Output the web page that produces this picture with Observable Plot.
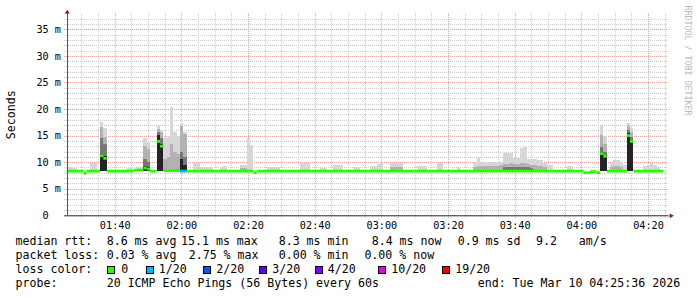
<!DOCTYPE html>
<html><head><meta charset="utf-8">
<script src="https://cdn.jsdelivr.net/npm/d3@7"></script>
<script src="https://cdn.jsdelivr.net/npm/@observablehq/plot@0.6"></script>
<style>
html,body{margin:0;padding:0;background:#fff;}
#chart{position:relative;width:697px;height:297px;overflow:hidden;background:#fff;}
#chart svg{position:absolute;left:0;top:0;}
.lg{position:absolute;font-family:'DejaVu Sans Mono',monospace;font-size:11.6px;line-height:14px;white-space:pre;color:#000;}
.box{position:absolute;width:8px;height:8px;box-sizing:border-box;border:1px solid #000;}
</style></head><body><div id="chart"></div>
<script>
// ---------- data ----------
const timeStart = "01:25", timeEnd = "04:25", dataEnd = "04:24";
const xTickLabels = ["01:40","02:00","02:20","02:40","03:00","03:20","03:40","04:00","04:20"];
const yTicks = [0,5,10,15,20,25,30,35];
const yTickLabels = ["0","5 m","10 m","15 m","20 m","25 m","30 m","35 m"];
const pingFloor = 8.3;

// smoke columns (1 minute each): tops of the smoke layers, lightest to darkest (ms)
const smokeTime = [
 "01:25","01:26","01:27","01:32","01:33","01:35","01:36","01:43","01:44","01:46",
 "01:47","01:48","01:49","01:52","01:53","01:54","01:55","01:56","01:57","01:58",
 "01:59","02:00","02:03","02:04","02:05","02:06","02:07","02:08","02:11","02:12",
 "02:17","02:18","02:19","02:20","02:25","02:26","02:27","02:28","02:35","02:36",
 "02:37","02:41","02:42","02:45","02:46","02:47","02:51","02:52","02:56","02:57",
 "02:58","02:59","03:02","03:03","03:04","03:05","03:10","03:11","03:12","03:16",
 "03:17","03:22","03:27","03:28","03:29","03:30","03:31","03:32","03:33","03:34",
 "03:35","03:36","03:37","03:38","03:39","03:40","03:41","03:42","03:43","03:44",
 "03:45","03:46","03:47","03:48","03:49","03:50","03:55","03:56","04:05","04:06",
 "04:08","04:09","04:10","04:11","04:12","04:13","04:14","04:18","04:19","04:20",
 "04:21","04:22"];
const smokeMax = [
 9.0,9.0,8.9,9.9,9.9,17.6,16.4,8.9,9.0,9.0,
 9.0,14.5,13.8,17.0,16.1,14.5,14.8,20.3,15.7,15.0,
 17.3,15.7,9.9,9.9,9.0,9.0,9.0,9.1,9.1,9.2,
 9.4,9.4,14.6,13.2,9.1,9.1,9.1,9.1,9.8,9.8,
 9.8,8.9,8.9,9.4,9.4,9.4,9.0,9.0,9.3,9.3,
 9.6,10.0,9.8,9.8,9.8,9.8,9.3,9.3,9.3,9.9,
 9.9,9.0,10.1,11.0,10.1,10.1,10.1,10.1,10.1,10.1,
 10.1,11.8,11.8,11.8,10.7,10.7,12.6,12.8,10.6,10.6,
 10.6,10.4,10.4,9.9,9.5,9.5,9.3,9.3,17.0,14.9,
 9.8,10.4,10.4,10.0,9.5,17.4,16.4,9.3,9.5,9.9,
 9.5,9.0];
const smokeUpper = [
 null,null,null,null,null,16.7,14.8,null,null,null,
 null,13.0,12.5,16.3,15.6,10.5,11.0,13.5,12.0,11.5,
 16.8,15.3,null,null,null,null,null,null,null,null,
 8.9,8.9,null,null,null,null,null,null,null,null,
 null,null,null,null,null,null,null,null,null,null,
 null,null,9.0,9.0,9.0,9.0,null,null,null,null,
 null,null,9.0,9.2,9.2,9.2,9.3,9.3,9.3,9.3,
 9.5,9.6,9.6,9.8,9.6,9.6,9.8,9.8,9.6,9.5,
 9.5,9.3,9.3,9.0,null,null,null,null,15.1,13.5,
 9.0,9.2,9.2,9.0,null,16.8,15.6,null,null,null,
 null,null];
const smokeMid = [
 null,null,null,null,null,14.5,13.5,null,null,null,
 null,10.5,10.0,15.6,14.5,null,null,null,null,null,
 12.0,11.0,null,null,null,null,null,null,null,null,
 null,null,null,null,null,null,null,null,null,null,
 null,null,null,null,null,null,null,null,null,null,
 null,null,null,null,null,null,null,null,null,null,
 null,null,null,null,null,null,null,null,null,null,
 null,9.0,9.0,9.1,9.0,9.0,9.1,9.1,9.0,8.9,
 null,null,null,null,null,null,null,null,12.9,12.0,
 null,null,null,null,null,16.0,14.8,null,null,null,
 null,null];
const smokeDark = [
 null,null,null,null,null,11.6,11.2,null,null,null,
 null,9.3,9.0,15.1,13.5,null,null,null,null,null,
 10.5,9.5,null,null,null,null,null,null,null,null,
 null,null,null,null,null,null,null,null,null,null,
 null,null,null,null,null,null,null,null,null,null,
 null,null,null,null,null,null,null,null,null,null,
 null,null,null,null,null,null,null,null,null,null,
 null,null,null,null,null,null,null,null,null,null,
 null,null,null,null,null,null,null,null,11.9,11.4,
 null,null,null,null,null,15.5,14.2,null,null,null,
 null,null];

// median rtt runs: start minute, median (ms), loss index
const medStart = ["01:25","01:30","01:31","01:35","01:36","01:37","01:45","01:48","01:49","01:50",
                  "01:52","01:53","01:54","01:59","02:01","02:21","02:22","04:00","04:02","04:04",
                  "04:05","04:06","04:07","04:13","04:14","04:15"];
const medValue = [8.4,8.0,8.4,11.3,10.8,8.4,8.6,9.0,8.8,8.4,
                  14.0,13.1,8.5,8.4,8.4,8.1,8.4,8.1,8.3,8.1,
                  11.7,11.2,8.4,15.1,14.0,8.4];
const medLoss  = [0,0,0,0,0,0,0,0,0,0,
                  0,0,0,1,0,0,0,0,0,0,
                  0,0,0,0,0,0];

const lossColors = ["#26ff00","#00b8ff","#0059ff","#5e00ff","#7e00ff","#dd00ff","#ff0000"];
const lossLabels = ["0","1/20","2/20","3/20","4/20","10/20","19/20"];

const rttValues = ["8.6","15.1","8.3","8.4","0.9"];
const rttWords  = ["ms avg","ms max","ms min","ms now","ms sd"];
const amsValue  = "9.2";
const lossStats = ["0.03","2.75","0.00","0.00"];
const lossWords = ["% avg","% max","% min","% now"];
const probeText = "20 ICMP Echo Pings (56 Bytes) every 60s";
const endText   = "end: Tue Mar 10 04:25:36 2026";

// ---------- build ----------
const T = (s, sec) => { const [h, m] = s.split(":").map(Number); return new Date(Date.UTC(2026, 2, 10, h, m, sec)); };
const x0 = T(timeStart, 36), x1 = T(timeEnd, 36);
const smoke = smokeTime.map((t, i) => ({t0: T(t, 36), t1: T(t, 96),
  max: smokeMax[i], upper: smokeUpper[i], mid: smokeMid[i], dark: smokeDark[i]}));
const runs = medStart.map((t, i) => ({
  t0: T(t, 36),
  t1: i < medStart.length - 1 ? T(medStart[i + 1], 36) : T(dataEnd, 36),
  v: medValue[i], c: lossColors[medLoss[i]]
}));
const xMajor = xTickLabels.map(s => T(s, 0));
const xMinor = d3.utcMinute.every(5).range(x0, x1).filter(d => d.getUTCMinutes() % 20 !== 0);
const yMinor = d3.range(1, 38).filter(d => d % 5 !== 0);
const yMajor = yTicks.filter(d => d > 0);

const arrowUp = {draw(ctx, size) { const r = Math.sqrt(size / Math.PI);
  ctx.moveTo(0, -0.8 * r); ctx.lineTo(0.9 * r, 0.4 * r); ctx.lineTo(-0.9 * r, 0.4 * r); ctx.closePath(); }};
const arrowRight = {draw(ctx, size) { const r = Math.sqrt(size / Math.PI);
  ctx.moveTo(0.7 * r, 0); ctx.lineTo(-0.7 * r, -0.8 * r); ctx.lineTo(-0.7 * r, 0.8 * r); ctx.closePath(); }};

const grid = {strokeDasharray: "1,1", shapeRendering: "crispEdges", strokeWidth: 1};
const layer = (key, fill) => Plot.rect(smoke.filter(d => d[key] != null),
  {x1: "t0", x2: "t1", y1: pingFloor, y2: key, fill, shapeRendering: "crispEdges"});
const chart = Plot.plot({
  width: 697, height: 232,
  marginLeft: 66.7, marginRight: 30.3, marginTop: 13.3, marginBottom: 16.7,
  x: {type: "utc", domain: [x0, x1], label: null},
  y: {domain: [0, 38], label: null},
  color: {type: "identity"},
  style: {fontFamily: "'DejaVu Sans Mono', monospace", fontSize: "10.2px", color: "#000", background: "transparent", overflow: "visible"},
  marks: [
    Plot.ruleY(yMinor, {...grid, stroke: "#cacaca", insetLeft: -2.5}),
    Plot.ruleX(xMinor, {...grid, stroke: "#cacaca", insetBottom: -2.5}),
    Plot.ruleY(yMajor, {...grid, stroke: "#eaa0a0", insetLeft: -2.5}),
    Plot.ruleX(xMajor, {...grid, stroke: "#eaa0a0", insetBottom: -2.5}),
    layer("max", "#d6d6d6"),
    layer("upper", "#b2b2b2"),
    layer("mid", "#777777"),
    layer("dark", "#242424"),
    Plot.ruleY(runs, {y: "v", x1: "t0", x2: "t1", stroke: "c", strokeWidth: 2.8}),
    Plot.ruleY([0], {stroke: "#222", insetLeft: -2.5, insetRight: -2}),
    Plot.ruleX([x0], {stroke: "#555", insetTop: -3, shapeRendering: "crispEdges"}),
    Plot.dot([{x: x0, y: 38}], {x: "x", y: "y", symbol: arrowUp, r: 3, fill: "#8b1a1a", stroke: null, dy: -1.5}),
    Plot.dot([{x: x1, y: 0}], {x: "x", y: "y", symbol: arrowRight, r: 3, fill: "#8b1a1a", stroke: null, dx: 4.5}),
    Plot.axisX({ticks: xMajor, tickFormat: d => xTickLabels[xMajor.findIndex(v => +v === +d)], tickSize: 0, tickPadding: 6.4, label: null, fill: "#000"}),
    Plot.axisY({ticks: yTicks, tickFormat: d => { const s = yTickLabels[yTicks.indexOf(d)]; return s.includes(" ") ? s.replace(" ", "\u00a0") : s + "\u00a0\u00a0"; },
      tickSize: 0, tickPadding: 6.2, label: null, fill: "#000"}),
    Plot.text(["Seconds"], {text: d => d, frameAnchor: "left", rotate: -90, textAnchor: "middle", lineAnchor: "middle", dx: -55.7, fontSize: 11.6, fill: "#000"}),
    Plot.text(["RRDTOOL / TOBI OETIKER"], {text: d => d, frameAnchor: "top-right", rotate: 90, textAnchor: "start", lineAnchor: "middle", dx: 20.8, dy: -8.3, fontSize: 8.3, fill: "#b8b8b8"})
  ]
});
const root = document.getElementById("chart");
root.append(chart);

// ---------- legend ----------
const baselines = [245.2, 259.2, 273.2, 287.2];
function addText(str, x, row) {
  const s = document.createElement("span");
  s.className = "lg"; s.textContent = str;
  s.style.left = x + "px"; s.style.top = (baselines[row] - 11) + "px";
  root.append(s);
}
const rttX = [106.7, 181.0, 278.7, 371.7, 457.7];
addText("median rtt:", 15.5, 0);
rttValues.forEach((v, i) => addText(v + " " + rttWords[i], rttX[i], 0));
addText(amsValue, 536.0, 0);
addText("am/s", 578.7, 0);
const lossX = [106.7, 188.7, 278.7, 364.4];
addText("packet loss:", 15.5, 1);
lossStats.forEach((v, i) => addText(v + " " + lossWords[i], lossX[i], 1));
addText("loss color:", 15.5, 2);
const boxX = [107.3, 146.0, 202.7, 259.3, 315.0, 377.7, 441.7];
const boxTextX = [121.2, 158.8, 216.2, 272.2, 327.8, 391.2, 455.2];
lossLabels.forEach((l, i) => {
  const b = document.createElement("div");
  b.className = "box"; b.style.background = lossColors[i];
  b.style.left = boxX[i] + "px"; b.style.top = (baselines[2] - 7.7) + "px";
  root.append(b);
  addText(l, boxTextX[i], 2);
});
addText("probe:", 15.5, 3);
addText(probeText, 106.7, 3);
addText(endText, 477.7, 3);
</script></body></html>
